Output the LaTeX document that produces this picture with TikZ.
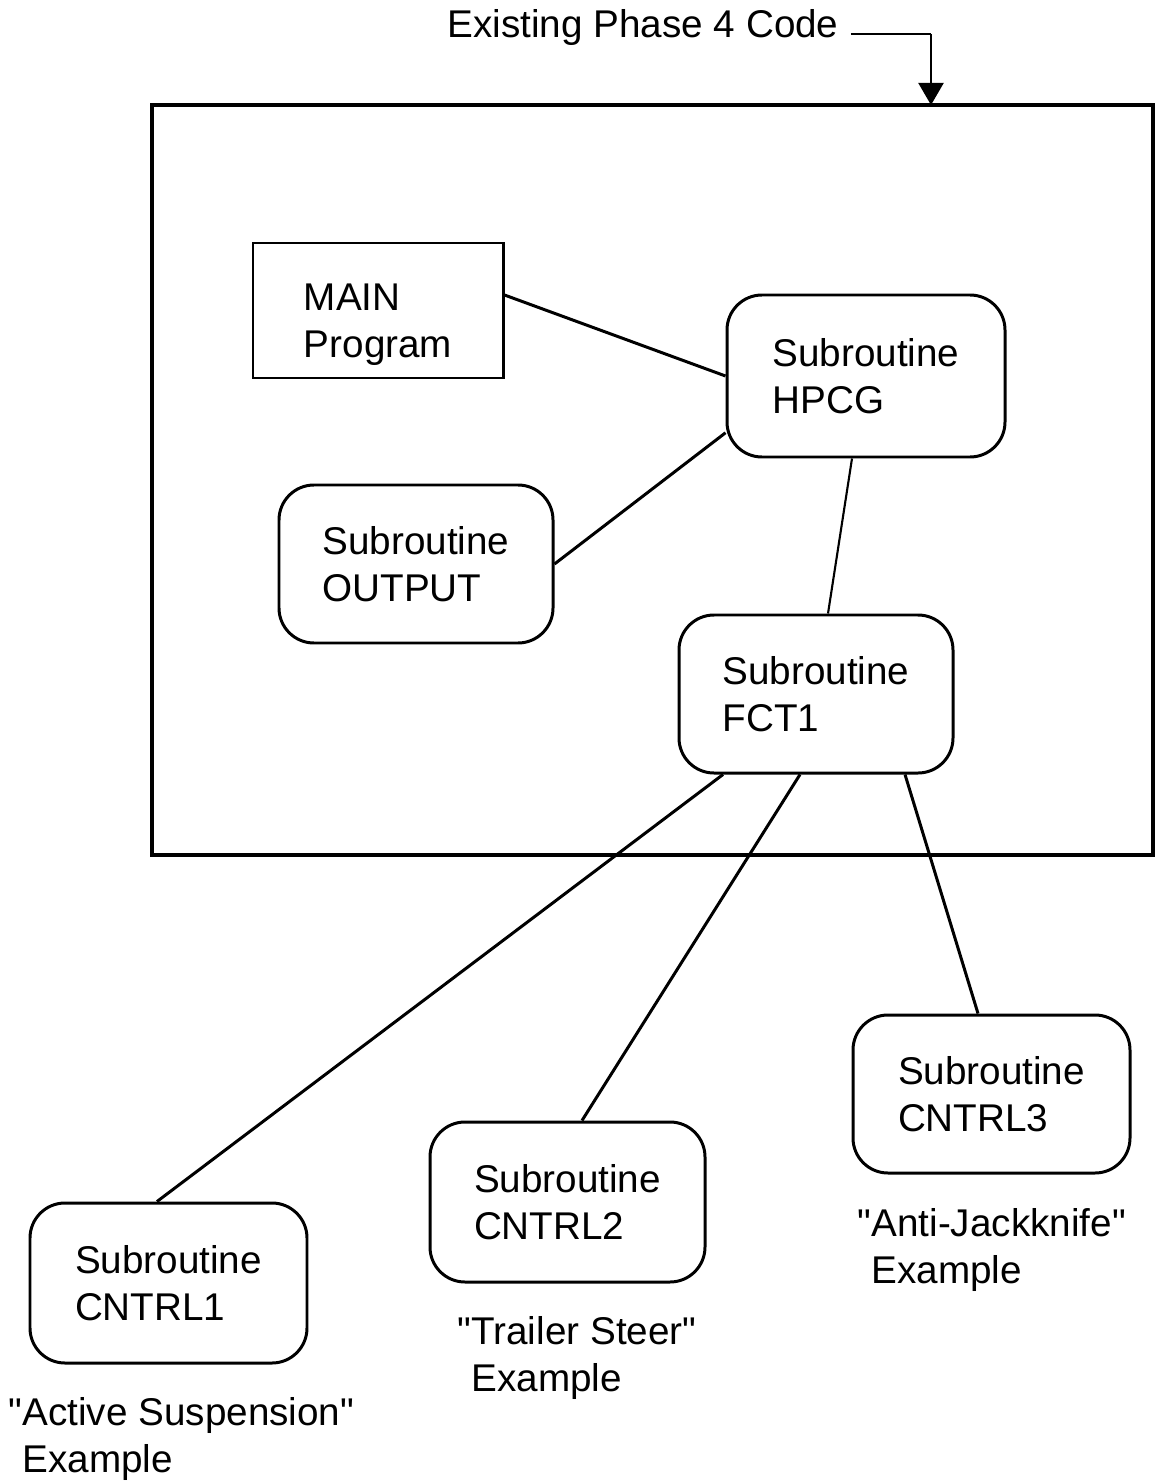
\documentclass[tikz,border=0pt]{standalone}
\usepackage{fontspec}
\setmainfont{Liberation Sans}[Ligatures=TeXOff]
\usetikzlibrary{arrows.meta}
\tikzset{
  every node/.style={font=\fontsize{11}{13.4}\selectfont},
  mainbox/.style={draw,line width=0.85pt,align=left,minimum width=2.5cm,minimum height=1.35cm},
  subbox/.style={draw,line width=0.85pt,rounded corners=0.35cm,align=left},
  caption/.style={align=left,anchor=north west,inner sep=0pt},
  link/.style={line width=0.85pt}
}
\begin{document}
\begin{tikzpicture}
\useasboundingbox (0,0) rectangle (11.55,-14.81);
%title and arrow
\node (title) at (6.43,-0.28) {Existing Phase 4 Code};
\coordinate (bend) at (9.31,-0.34);
\coordinate (tip) at (9.31,-1.05);
\draw[line width=0.85pt] (bend -| title.east) -- (bend);
\draw[line width=0.6pt,-{Triangle[length=2.2mm,width=2.5mm]}] (bend) -- (tip);
%Phase 4 box
\draw[line width=1.15pt] (1.52,-1.05) rectangle (11.53,-8.55);
%routines
\node[mainbox] (main) at (3.78,-3.105) {\rule{0pt}{0.55cm}MAIN\\Program};
\node[subbox,minimum width=2.78cm,minimum height=1.62cm] (hpcg) at (8.66,-3.76) {Subroutine\\HPCG};
\node[subbox,minimum width=2.74cm,minimum height=1.58cm] (output) at (4.16,-5.64) {Subroutine\\OUTPUT};
\node[subbox,minimum width=2.74cm,minimum height=1.58cm] (fct) at (8.16,-6.94) {Subroutine\\FCT1};
%controllers
\node[subbox,minimum width=2.77cm,minimum height=1.60cm] (cntrl1) at (1.685,-12.83) {Subroutine\\CNTRL1};
\node[subbox,minimum width=2.75cm,minimum height=1.60cm] (cntrl2) at (5.675,-12.02) {Subroutine\\CNTRL2};
\node[subbox,minimum width=2.77cm,minimum height=1.58cm] (cntrl3) at (9.915,-10.94) {Subroutine\\CNTRL3};
%captions
\node[caption] (ex1) at (0.08,-13.97) {"Active Suspension"\\\phantom{"}Example};
\node[caption] (ex2) at (4.57,-13.16) {"Trailer Steer"\\\phantom{"}Example};
\node[caption] (ex3) at (8.57,-12.08) {"Anti-Jackknife"\\\phantom{"}Example};
%calls
\draw[link] ([yshift=0.155cm]main.east) -- (hpcg.west);
\draw[link] (output.east) -- (hpcg.202);
\draw[line width=0.6pt] ([xshift=-0.14cm]hpcg.south) -- ([xshift=0.12cm]fct.north);
\draw[link] ([xshift=-0.93cm]fct.south) -- ([xshift=-0.115cm]cntrl1.north);
\draw[link] ([xshift=-0.16cm]fct.south) -- ([xshift=0.145cm]cntrl2.north);
\draw[link] ([xshift=0.89cm]fct.south) -- ([xshift=-0.135cm]cntrl3.north);
\end{tikzpicture}
\end{document}
